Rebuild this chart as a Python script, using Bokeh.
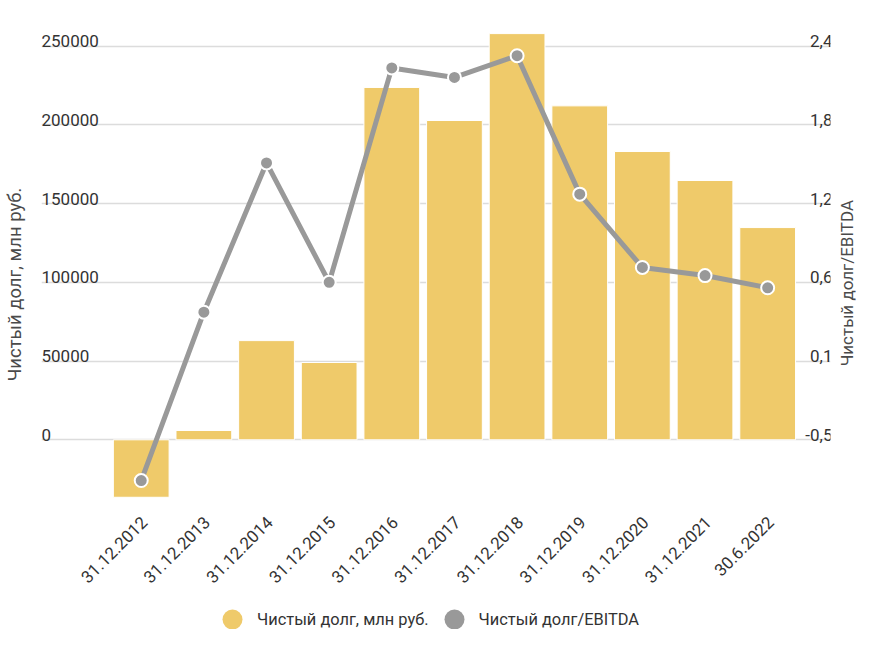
import math
from bokeh.plotting import figure
from bokeh.layouts import column, row
from bokeh.models import Range1d, FixedTicker, Legend, LegendItem
from bokeh.core.properties import value
from bokeh.embed import file_html
from bokeh.resources import INLINE

# ---- data ----
dates = ["31.12.2012", "31.12.2013", "31.12.2014", "31.12.2015", "31.12.2016",
         "31.12.2017", "31.12.2018", "31.12.2019", "31.12.2020", "31.12.2021",
         "30.6.2022"]
net_debt = [-36500, 5900, 63000, 49100, 223800, 202800, 258000, 212100,
            183100, 164700, 134800]
debt_ebitda = [-0.80, 0.44, 1.54, 0.66, 2.24, 2.17, 2.33, 1.31, 0.77, 0.71, 0.62]
left_ticks = [0, 50000, 100000, 150000, 200000, 250000]
left_labels = ["0", "50000", "100000", "150000", "200000", "250000"]
right_ticks = [-0.5, 0.08, 0.66, 1.24, 1.82, 2.4]
right_labels = ["-0,5", "0,1", "0,6", "1,2", "1,8", "2,4"]
series_names = ["Чистый долг, млн руб.", "Чистый долг/EBITDA"]

idx = list(range(len(dates)))

FONT = "Roboto"
BAR = "#EFCA6A"
GRAY = "#999999"
TXT = "#333333"
TITLE_C = "#4a4a4a"

MAIN_W, MAIN_H, SIDE_W, LEG_H = 836, 591, 21, 38

x0, x1 = -1.592, 11.003
p = figure(width=MAIN_W, height=MAIN_H, output_backend="svg", toolbar_location=None,
           x_range=Range1d(x0, x1), y_range=Range1d(-69042, 266323),
           min_border_left=39, min_border_right=6, min_border_top=20,
           min_border_bottom=43)
p.outline_line_color = None
p.background_fill_color = "white"
p.border_fill_color = "white"

p.extra_y_ranges = {"right": Range1d(-1.3009, 2.5894)}

# grids
p.xgrid.visible = False
p.ygrid[0].ticker = FixedTicker(ticks=left_ticks)
p.ygrid[0].grid_line_color = "#dcdcdc"
p.ygrid[0].grid_line_width = 1.5

# left axis (title only)
ly = p.yaxis[0]
ly.ticker = FixedTicker(ticks=[])
ly.axis_line_color = None
ly.major_tick_out = 0
ly.minor_tick_out = 0
ly.major_label_standoff = 0
ly.axis_label = series_names[0]
ly.axis_label_text_font = FONT
ly.axis_label_text_font_style = "normal"
ly.axis_label_text_font_size = "18.5px"
ly.axis_label_text_color = TITLE_C
ly.axis_label_standoff = 16

# x axis
tick_pos = [i + 0.05 for i in idx]
xa = p.xaxis[0]
xa.ticker = FixedTicker(ticks=tick_pos)
xa.major_label_overrides = {t: d for t, d in zip(tick_pos, dates)}
xa.major_label_orientation = math.pi / 4
xa.axis_line_color = None
xa.major_tick_line_color = None
xa.minor_tick_line_color = None
xa.major_label_text_font = FONT
xa.major_label_text_font_size = "17px"
xa.major_label_text_color = TXT
xa.major_label_standoff = -35

# bars
p.vbar(x=idx, top=net_debt, bottom=0, width=0.89, fill_color=BAR,
       line_color="#ffffff", line_width=1)

# line + markers
p.line(x=idx, y=debt_ebitda, y_range_name="right", line_color=GRAY, line_width=5)
p.scatter(x=idx, y=debt_ebitda, y_range_name="right", marker="circle",
          size=13, fill_color=GRAY, line_color="white", line_width=2)

# tick labels drawn above gridlines inside plot
p.text(x=[x0] * len(left_ticks), y=left_ticks, text=left_labels,
       x_offset=0, y_offset=-5, text_align="left", text_baseline="alphabetic",
       text_font=value(FONT), text_font_size=value("17px"), text_color=TXT)
p.text(x=[x1] * len(right_ticks), y=right_ticks, text=right_labels,
       y_range_name="right", x_offset=2, y_offset=-5, text_align="right",
       text_baseline="alphabetic", text_font=value(FONT),
       text_font_size=value("17px"), text_color=TXT)

# ---- right-hand axis title strip ----
side = figure(width=SIDE_W, height=MAIN_H, output_backend="svg", toolbar_location=None,
              x_axis_location=None, y_axis_location=None, min_border=0,
              x_range=Range1d(0, SIDE_W), y_range=Range1d(0, MAIN_H))
side.outline_line_color = None
side.xgrid.visible = False
side.ygrid.visible = False
side.text(x=[SIDE_W / 2], y=[MAIN_H - 294], text=[series_names[1]],
          angle=math.pi / 2, text_align="center", text_baseline="middle",
          text_font=value(FONT), text_font_size=value("17px"),
          text_color=TITLE_C)

# ---- legend strip (separate figure below the chart) ----
leg = figure(width=MAIN_W + SIDE_W, height=LEG_H, output_backend="svg",
             toolbar_location=None, x_axis_location=None, y_axis_location=None,
             min_border=0, x_range=Range1d(0, 1), y_range=Range1d(0, 1))
leg.outline_line_color = None
leg.xgrid.visible = False
leg.ygrid.visible = False
r_bar = leg.scatter(x=idx, y=net_debt, size=0, marker="circle",
                    fill_color=BAR, line_color=None)
r_line = leg.scatter(x=idx, y=debt_ebitda, size=0, marker="circle",
                     fill_color=GRAY, line_color=None)
legend = Legend(items=[LegendItem(label=series_names[0], renderers=[r_bar]),
                       LegendItem(label=series_names[1], renderers=[r_line])],
                orientation="horizontal", location=(207, -15),
                glyph_width=50, glyph_height=50, label_standoff=0, spacing=0,
                padding=0, margin=0, border_line_color=None,
                background_fill_alpha=0, label_text_font=FONT,
                label_text_font_size="16.4px", label_text_color=TXT)
leg.add_layout(legend)

open("out.html", "w").write(file_html(column(row(p, side), leg), INLINE))
